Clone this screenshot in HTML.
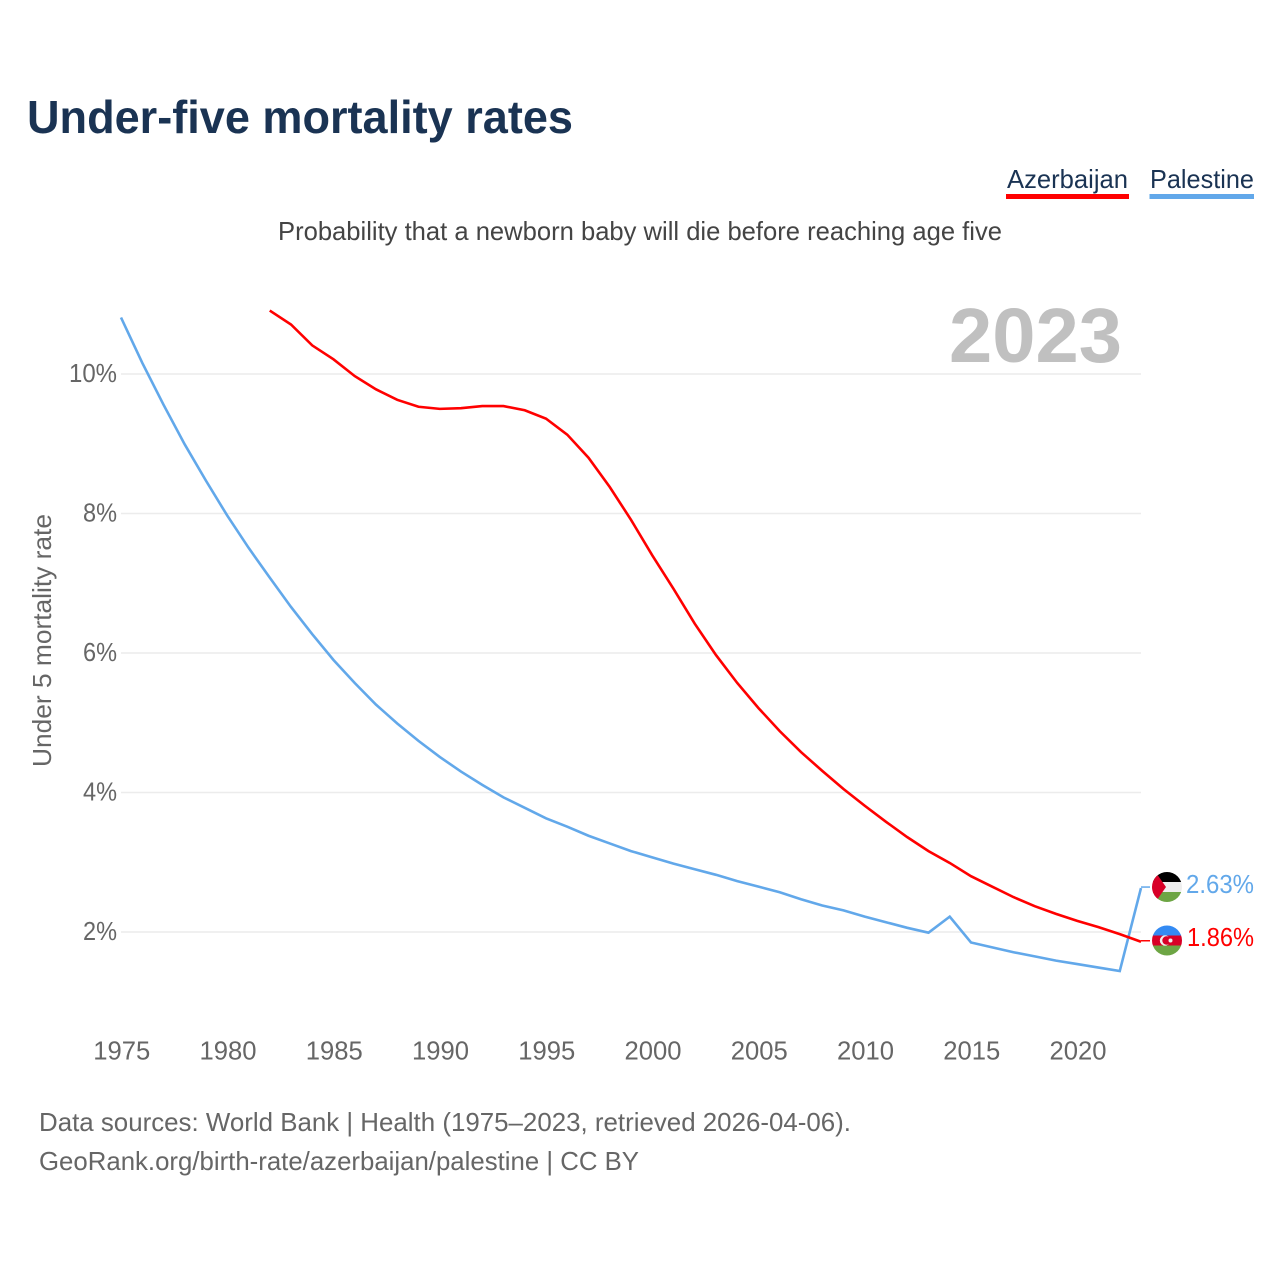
<!DOCTYPE html>
<html lang="en">
<head>
<meta charset="utf-8">
<title>Under-five mortality rates</title>
<style>
html,body{margin:0;padding:0;background:#fff;width:1280px;height:1280px;overflow:hidden}
svg{display:block}
text{font-family:"Liberation Sans",sans-serif}
</style>
</head>
<body>
<svg id="chart" xmlns="http://www.w3.org/2000/svg" width="1280" height="1280" viewBox="0 0 1280 1280">
  <defs>
    <clipPath id="clip-ps"><circle cx="1167" cy="887" r="15"/></clipPath>
    <clipPath id="clip-az"><circle cx="1167" cy="940.5" r="15"/></clipPath>
  </defs>
  <rect width="1280" height="1280" fill="#fff"/>
  <text x="27" y="133" font-size="46" font-weight="700" fill="#1a3353" textLength="546" lengthAdjust="spacingAndGlyphs">Under-five mortality rates</text>
  <text x="278" y="240" font-size="26" fill="#444" textLength="724" lengthAdjust="spacingAndGlyphs">Probability that a newborn baby will die before reaching age five</text>

  <g>
    <text x="1007" y="188" font-size="26" fill="#1a3353" textLength="121" lengthAdjust="spacingAndGlyphs">Azerbaijan</text>
    <rect x="1006" y="194" width="123" height="5" fill="#ff0000"/>
  </g>
  <g>
    <text x="1150" y="188" font-size="26" fill="#1a3353" textLength="104" lengthAdjust="spacingAndGlyphs">Palestine</text>
    <rect x="1149.500" y="194" width="104.500" height="5" fill="#62a8ea"/>
  </g>

  <g id="grid"></g>
  <g id="y-axis"></g>
  <g id="x-axis"></g>

  <text transform="translate(51,767) rotate(-90)" font-size="26" fill="#666" textLength="253" lengthAdjust="spacingAndGlyphs">Under 5 mortality rate</text>
  <text x="949" y="362" font-size="77" font-weight="700" fill="#c0c0c0" textLength="173" lengthAdjust="spacingAndGlyphs">2023</text>

  <g id="series"></g>

  <g clip-path="url(#clip-ps)">
    <rect x="1152" y="872" width="30" height="10" fill="#000"/>
    <rect x="1152" y="882" width="30" height="10" fill="#eeeeee"/>
    <rect x="1152" y="892" width="30" height="10" fill="#6da544"/>
    <polygon points="1152,867 1166,887 1152,907" fill="#d80027"/>
  </g>
  <g clip-path="url(#clip-az)">
    <rect x="1152" y="925.500" width="30" height="10" fill="#338af3"/>
    <rect x="1152" y="935.500" width="30" height="10" fill="#d80027"/>
    <rect x="1152" y="945.500" width="30" height="10" fill="#6da544"/>
    <circle cx="1165" cy="940.500" r="5.200" fill="#f0f0f0"/>
    <circle cx="1166.500" cy="940.500" r="4.200" fill="#d80027"/>
    <circle cx="1170.500" cy="940.500" r="2" fill="#f0f0f0"/>
  </g>

  <text id="end-label-palestine" x="1186" y="893" font-size="26" fill="#62a8ea" textLength="68" lengthAdjust="spacingAndGlyphs"></text>
  <text id="end-label-azerbaijan" x="1187" y="946" font-size="26" fill="#ff0000" textLength="67" lengthAdjust="spacingAndGlyphs"></text>

  <text x="39" y="1131" font-size="26" fill="#666" textLength="812" lengthAdjust="spacingAndGlyphs">Data sources: World Bank | Health (1975–2023, retrieved 2026-04-06).</text>
  <text x="39" y="1170" font-size="26" fill="#666" textLength="600" lengthAdjust="spacingAndGlyphs">GeoRank.org/birth-rate/azerbaijan/palestine | CC BY</text>
</svg>
<script>
const palestineYears = [1975,1976,1977,1978,1979,1980,1981,1982,1983,1984,1985,1986,1987,1988,1989,1990,1991,1992,1993,1994,1995,1996,1997,1998,1999,2000,2001,2002,2003,2004,2005,2006,2007,2008,2009,2010,2011,2012,2013,2014,2015,2016,2017,2018,2019,2020,2021,2022,2023];
const palestineValues = [10.81,10.16,9.56,8.99,8.47,7.97,7.51,7.08,6.66,6.27,5.90,5.57,5.26,4.99,4.74,4.51,4.30,4.11,3.93,3.78,3.63,3.51,3.38,3.27,3.16,3.07,2.98,2.90,2.82,2.73,2.65,2.57,2.47,2.38,2.31,2.22,2.14,2.06,1.99,2.22,1.85,1.78,1.71,1.65,1.59,1.54,1.49,1.44,2.63];
const azerbaijanYears = [1982,1983,1984,1985,1986,1987,1988,1989,1990,1991,1992,1993,1994,1995,1996,1997,1998,1999,2000,2001,2002,2003,2004,2005,2006,2007,2008,2009,2010,2011,2012,2013,2014,2015,2016,2017,2018,2019,2020,2021,2022,2023];
const azerbaijanValues = [10.91,10.71,10.41,10.21,9.97,9.78,9.63,9.53,9.50,9.51,9.54,9.54,9.48,9.36,9.13,8.80,8.38,7.91,7.40,6.92,6.42,5.97,5.57,5.21,4.88,4.58,4.31,4.05,3.81,3.58,3.36,3.16,2.99,2.80,2.65,2.50,2.37,2.26,2.16,2.07,1.97,1.86];
const xTickLabels = [1975,1980,1985,1990,1995,2000,2005,2010,2015,2020];
const yTickLabels = [2,4,6,8,10];

const NS = 'http://www.w3.org/2000/svg';
function xScale(year) { return 121 + (year - 1975) * (1141 - 121) / 48; }
function yScale(value) { return 932 - (value - 2) * (932 - 374) / 8; }
function make(tag, attrs, parent, text) {
  const el = document.createElementNS(NS, tag);
  for (const k in attrs) el.setAttribute(k, attrs[k]);
  if (text !== undefined) el.textContent = text;
  parent.appendChild(el);
  return el;
}
const gridGroup = document.getElementById('grid');
const yAxisGroup = document.getElementById('y-axis');
const xAxisGroup = document.getElementById('x-axis');
const seriesGroup = document.getElementById('series');

yTickLabels.forEach(function (v) {
  const line = make('line', {x1: 121, x2: 1141, y1: yScale(v), y2: yScale(v), stroke: '#ececec', 'stroke-width': 1.5}, gridGroup);
  
  
  const text = v + '%';
  const label = make('text', {x: 117, y: yScale(v) + 8, 'font-size': 26, fill: '#666', 'text-anchor': 'end', textLength: 34 + (text.length - 2) * 14, lengthAdjust: 'spacingAndGlyphs'}, yAxisGroup, text);
  
  
});
xTickLabels.forEach(function (year) {
  const label = make('text', {x: xScale(year) + 0.75, y: 1059.5, 'font-size': 26, fill: '#666', 'text-anchor': 'middle', textLength: 57, lengthAdjust: 'spacingAndGlyphs'}, xAxisGroup, String(year));
  
  
});
function pathFor(years, values) {
  return years.map(function (y, i) {
    return (i ? 'L' : 'M') + xScale(y).toFixed(2) + ' ' + yScale(values[i]).toFixed(2);
  }).join(' ');
}
function lastPoint(years, values) {
  const i = years.length - 1;
  return {x: xScale(years[i]), y: yScale(values[i])};
}
const palLine = make('path', {d: pathFor(palestineYears, palestineValues), fill: 'none', stroke: '#62a8ea', 'stroke-width': 2.6, 'stroke-linejoin': 'miter'}, seriesGroup);


const azLine = make('path', {d: pathFor(azerbaijanYears, azerbaijanValues), fill: 'none', stroke: '#ff0000', 'stroke-width': 2.6, 'stroke-linejoin': 'miter'}, seriesGroup);



const palEnd = lastPoint(palestineYears, palestineValues);
const palLeader = make('line', {x1: palEnd.x, x2: palEnd.x + 9, y1: palEnd.y - 1, y2: palEnd.y - 1, stroke: '#62a8ea', 'stroke-width': 1.5}, seriesGroup);


const azEnd = lastPoint(azerbaijanYears, azerbaijanValues);
const azLeader = make('line', {x1: azEnd.x, x2: azEnd.x + 9, y1: azEnd.y - 1, y2: azEnd.y - 1, stroke: '#ff0000', 'stroke-width': 1.5}, seriesGroup);



document.getElementById('end-label-palestine').textContent = palestineValues[palestineValues.length - 1].toFixed(2) + '%';
document.getElementById('end-label-azerbaijan').textContent = azerbaijanValues[azerbaijanValues.length - 1].toFixed(2) + '%';
</script>
</body>
</html>
